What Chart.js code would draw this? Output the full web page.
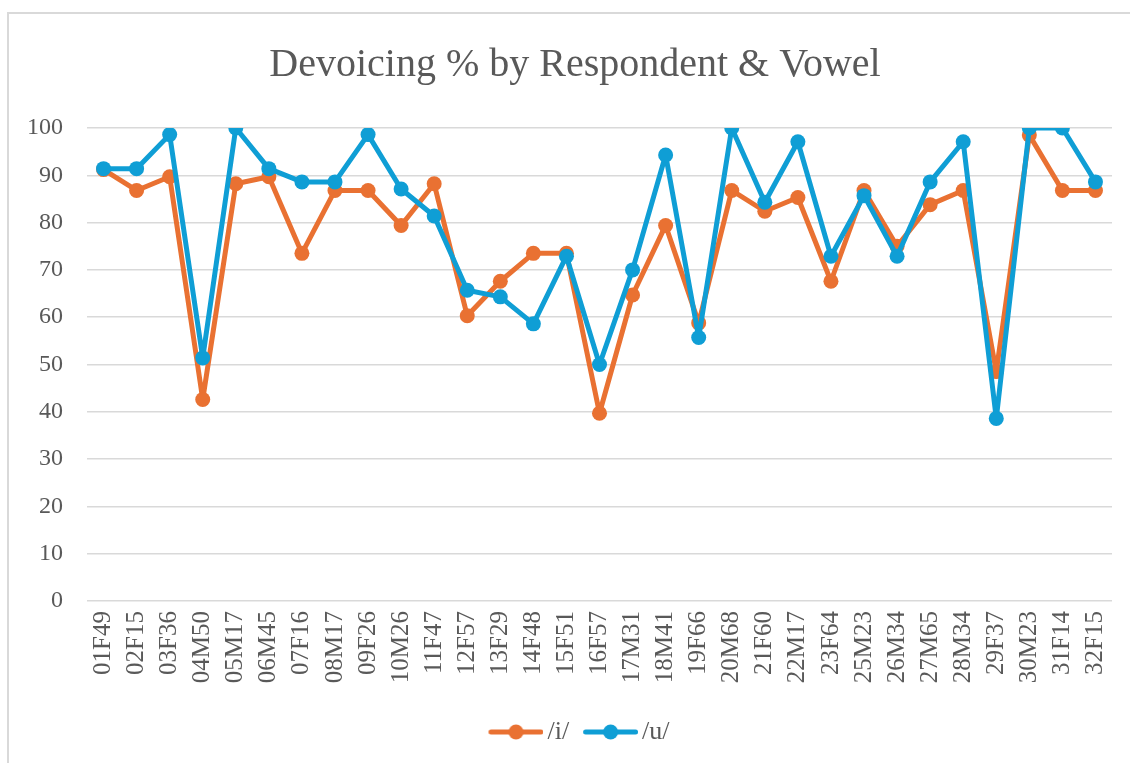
<!DOCTYPE html>
<html>
<head>
<meta charset="utf-8">
<script src="https://cdn.jsdelivr.net/npm/chart.js@4/dist/chart.umd.min.js"></script>
<style>
  html, body { margin: 0; padding: 0; background: #ffffff; overflow: hidden; }
  #frame { position: absolute; left: 7px; top: 12px; width: 1200px; height: 800px; border: 2px solid #D9D9D9; box-sizing: border-box; }
  #c { position: absolute; left: 0; top: 0; }
</style>
</head>
<body>
<div id="frame"></div>
<canvas id="c" width="1130" height="763"></canvas>
<script>
const categories = ["01F49","02F15","03F36","04M50","05M17","06M45","07F16","08M17","09F26","10M26","11F47","12F57","13F29","14F48","15F51","16F57","17M31","18M41","19F66","20M68","21F60","22M17","23F64","25M23","26M34","27M65","28M34","29F37","30M23","31F14","32F15"];
const seriesI = [91.2,86.8,89.7,42.6,88.2,89.7,73.5,86.8,86.8,79.4,88.2,60.3,67.6,73.5,73.5,39.7,64.7,79.4,58.8,86.8,82.4,85.3,67.6,86.8,75.0,83.8,86.8,48.5,98.5,86.8,86.8];
const seriesU = [91.4,91.4,98.6,51.4,100,91.4,88.6,88.6,98.6,87.1,81.4,65.7,64.3,58.6,72.9,50.0,70.0,94.3,55.7,100,84.3,97.1,72.9,85.7,72.9,88.6,97.1,38.6,100,100,88.6];
const seriesNames = ["/i/", "/u/"];
const yTicks = [0,10,20,30,40,50,60,70,80,90,100];
const titleText = "Devoicing % by Respondent & Vowel";

const ORANGE = "#E97132";
const BLUE = "#0F9ED5";
const TEXT = "#595959";
const GRID = "#D9D9D9";
const FONT = "'Liberation Serif', 'DejaVu Serif', serif";

// legend icon: line with a dot; drawn into a 72px canvas centred on a 54px legend box
function legendIcon(color) {
  const cv = document.createElement("canvas");
  cv.width = 72; cv.height = 18;
  const g = cv.getContext("2d");
  g.strokeStyle = color; g.lineWidth = 5; g.lineCap = "round";
  g.beginPath(); g.moveTo(19.5, 9); g.lineTo(69.5, 9); g.stroke();
  g.fillStyle = color;
  g.beginPath(); g.arc(44.5, 9, 7.5, 0, Math.PI * 2); g.fill();
  return cv;
}
const icons = [legendIcon(ORANGE), legendIcon(BLUE)];

new Chart(document.getElementById("c"), {
  type: "line",
  data: {
    labels: categories,
    datasets: [
      { label: seriesNames[0], data: seriesI, borderColor: ORANGE, backgroundColor: ORANGE,
        borderWidth: 5, borderJoinStyle: "round", borderCapStyle: "round",
        pointRadius: 7.5, pointHoverRadius: 7.5, pointBorderWidth: 0, tension: 0, order: 1 },
      { label: seriesNames[1], data: seriesU, borderColor: BLUE, backgroundColor: BLUE,
        borderWidth: 5, borderJoinStyle: "round", borderCapStyle: "round",
        pointRadius: 7.5, pointHoverRadius: 7.5, pointBorderWidth: 0, tension: 0, order: 0 }
    ]
  },
  options: {
    responsive: false,
    animation: false,
    layout: { padding: { left: 20, right: 0, top: 0, bottom: 8 } },
    plugins: {
      title: {
        display: true, text: titleText, color: TEXT,
        font: { family: FONT, size: 40, weight: "normal" }, lineHeight: 1.2,
        padding: { top: 41.5, bottom: 38.5 }
      },
      legend: {
        position: "bottom",
        labels: {
          color: TEXT, font: { family: FONT, size: 26 },
          usePointStyle: true, pointStyleWidth: 54, padding: 6,
          sort: (a, b) => a.datasetIndex - b.datasetIndex,
          generateLabels: (chart) => {
            const items = Chart.defaults.plugins.legend.labels.generateLabels(chart);
            items.forEach(it => { it.pointStyle = icons[it.datasetIndex]; });
            return items;
          }
        }
      },
      tooltip: { enabled: false }
    },
    scales: {
      x: {
        offset: true,
        grid: { display: false, drawTicks: false },
        border: { display: false },
        ticks: { color: TEXT, font: { family: FONT, size: 25 }, minRotation: 90, maxRotation: 90, autoSkip: false, padding: 10 },
        afterFit: (s) => { s.height = 112; s.paddingRight = 0; s.paddingLeft = 0; }
      },
      y: {
        position: "left",
        min: 0, max: 100,
        afterBuildTicks: (s) => { s.ticks = yTicks.map(v => ({ value: v })); },
        grid: { color: GRID, lineWidth: 1.5, drawTicks: false },
        border: { display: false },
        ticks: { color: TEXT, font: { family: FONT, size: 24 }, padding: 24 },
        afterFit: (s) => { s.width = 67; }
      },
      yRight: {
        position: "right",
        min: 0, max: 100,
        grid: { display: false, drawTicks: false },
        border: { display: false },
        ticks: { display: false },
        afterFit: (s) => { s.width = 18; }
      }
    }
  }
});
</script>
</body>
</html>
